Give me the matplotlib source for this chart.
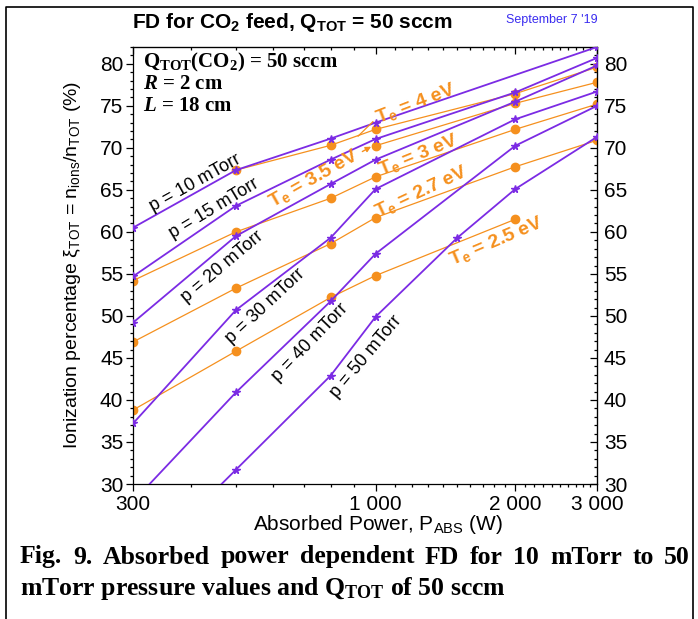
import matplotlib
matplotlib.use('Agg')
import matplotlib.pyplot as plt
from matplotlib.lines import Line2D
from matplotlib.ticker import FixedLocator, FixedFormatter, MultipleLocator, NullFormatter

plt.rcParams['font.family'] = 'Liberation Sans'
plt.rcParams['mathtext.default'] = 'regular'
plt.rcParams['mathtext.fontset'] = 'custom'
plt.rcParams['mathtext.it'] = 'Liberation Serif:italic:bold'

# pressure curves (purple, stars): absorbed power (W) -> ionization percentage (%)
P_10 = [300, 500, 800, 1000, 3000]
xi_10 = [60.5, 67.35, 71.1, 73.0, 82.0]
P_15 = [300, 500, 800, 1000, 2000, 3000]
xi_15 = [54.7, 63.1, 68.6, 71.05, 76.6, 80.7]
P_20 = [300, 500, 800, 1000, 2000, 3000]
xi_20 = [49.2, 59.5, 65.7, 68.6, 75.5, 79.8]
P_30 = [300, 500, 800, 1000, 2000, 3000]
xi_30 = [37.2, 50.7, 59.3, 65.1, 73.4, 76.7]
P_40 = [300, 500, 800, 1000, 2000, 3000]
xi_40 = [27.9, 40.9, 51.75, 57.4, 70.25, 75.0]
P_50 = [300, 500, 800, 1000, 1500, 2000, 3000]
xi_50 = [19.5, 31.7, 42.9, 49.9, 59.3, 65.1, 71.3]

# constant Te curves (orange, circles)
P_te40 = [500, 800, 1000, 2000, 3000]
xi_te40 = [67.35, 70.3, 72.2, 76.45, 79.6]
P_te35 = [1000, 2000, 3000]
xi_te35 = [70.25, 75.3, 77.8]
P_te30 = [300, 500, 800, 1000, 2000, 3000]
xi_te30 = [54.2, 60.0, 64.0, 66.55, 72.2, 75.2]
P_te27 = [300, 500, 800, 1000, 2000, 3000]
xi_te27 = [46.9, 53.3, 58.6, 61.7, 67.75, 70.9]
P_te25 = [300, 500, 800, 1000, 2000]
xi_te25 = [38.8, 45.8, 52.2, 54.8, 61.5]

x_major = [300, 1000, 2000, 3000]
x_major_labels = ['300', '1 000', '2 000', '3 000']

purple = '#7b2be4'
orange = '#f5901e'

fig = plt.figure(figsize=(6.98, 6.19), dpi=100)
ax = fig.add_axes([133/698, 135/619, 464/698, 437/619])

for P, xi in [(P_te40, xi_te40), (P_te35, xi_te35), (P_te30, xi_te30),
              (P_te27, xi_te27), (P_te25, xi_te25)]:
    ax.plot(P, xi, color=orange, lw=0.9, marker='o', ms=6, mec=orange, zorder=2)

for P, xi in [(P_10, xi_10), (P_15, xi_15), (P_20, xi_20),
              (P_30, xi_30), (P_40, xi_40), (P_50, xi_50)]:
    ax.plot(P, xi, color=purple, lw=1.3, marker='*', ms=5.5, zorder=3)

ax.set_xscale('log')
ax.set_xlim(300, 3000)
ax.set_ylim(30, 82)

x_minor = list(range(400, 1000, 100)) + list(range(1100, 2000, 100)) + list(range(2100, 3000, 100))
ax.xaxis.set_major_locator(FixedLocator(x_major))
ax.xaxis.set_major_formatter(FixedFormatter(x_major_labels))
ax.xaxis.set_minor_locator(FixedLocator(x_minor))
ax.xaxis.set_minor_formatter(NullFormatter())
ax.yaxis.set_major_locator(MultipleLocator(5))
ax.yaxis.set_minor_locator(MultipleLocator(1))
ax.tick_params(which='both', direction='out', labelsize=15, width=0.9)
ax.tick_params(which='major', length=5)
ax.tick_params(which='minor', length=2.5)
ax.tick_params(axis='y', pad=2)
ax.tick_params(axis='x', pad=3)

top = ax.secondary_xaxis('top')
top.xaxis.set_major_locator(FixedLocator(x_major))
top.xaxis.set_minor_locator(FixedLocator(x_minor))
top.xaxis.set_minor_formatter(NullFormatter())
top.tick_params(which='both', direction='in', labeltop=False, width=0.9)
top.tick_params(which='major', length=5)
top.tick_params(which='minor', length=2.5)

right = ax.secondary_yaxis('right')
right.yaxis.set_major_locator(MultipleLocator(5))
right.yaxis.set_minor_locator(MultipleLocator(1))
right.tick_params(which='both', direction='in', labelsize=15, width=0.9, pad=5)
right.tick_params(which='major', length=5)
right.tick_params(which='minor', length=2.5)

for s in ax.spines.values():
    s.set_linewidth(0.9)

# curve labels
p_labels = [('p = 10 mTorr', 408, 65.8, 29), ('p = 15 mTorr', 449, 62.8, 31),
            ('p = 20 mTorr', 467, 55.8, 40), ('p = 30 mTorr', 579, 51.2, 43),
            ('p = 40 mTorr', 723, 46.8, 46), ('p = 50 mTorr', 954, 45.1, 50)]
for txt, x, y, a in p_labels:
    ax.text(x, y, txt, fontsize=13, rotation=a, ha='center', va='center',
            rotation_mode='anchor', zorder=5)

te_labels = [('T$_e$ = 4 eV', 1218, 75.3, 21), ('T$_e$ = 3.5 eV', 735, 66.3, 29.5),
             ('T$_e$ = 3 eV', 1237, 69.1, 22), ('T$_e$ = 2.7 eV', 1255, 64.8, 25),
             ('T$_e$ = 2.5 eV', 1820, 58.9, 23)]
for txt, x, y, a in te_labels:
    ax.text(x, y, txt, fontsize=14, fontweight='bold', color=orange, rotation=a,
            ha='center', va='center', rotation_mode='anchor', zorder=5)

ax.plot([917, 986], [71.4, 73.1], color=orange, lw=0.9, zorder=4)
ax.annotate('', xy=(990, 70.3), xytext=(925, 69.4),
            arrowprops=dict(arrowstyle='-|>', color=orange, lw=1, mutation_scale=8))

# info block
fig.text(143/698, 1-62/619, 'Q$_{TOT}$(CO$_2$) = 50 sccm', family='Liberation Serif',
         fontweight='bold', fontsize=15, va='center')
fig.text(143/698, 1-84/619, r'$\mathit{R}$ = 2 cm', family='Liberation Serif',
         fontweight='bold', fontsize=15, va='center')
fig.text(143/698, 1-106/619, r'$\mathit{L}$ = 18 cm', family='Liberation Serif',
         fontweight='bold', fontsize=15, va='center')

fig.text(132/698, 1-23/619, 'FD for CO$_2$ feed, Q$_{TOT}$ = 50 sccm', fontweight='bold',
         fontsize=15, va='center')
fig.text(598/698, 1-20/619, "September 7 '19", color='#3a2cf0', fontsize=9,
         ha='right', va='center')

fig.text(73/698, 1-265/619, r'Ionization percentage $\xi_{TOT}$ = n$_{ions}$/n$_{TOT}$ (%)',
         fontsize=14, rotation=90, ha='center', va='center')
fig.text(378/698, 1-525/619, 'Absorbed Power, P$_{ABS}$ (W)', fontsize=15,
         ha='center', va='center')

# caption, first line justified to the frame width
cap_kw = dict(family='Liberation Serif', fontweight='bold', fontsize=18.5, va='center')
words = 'Fig. 9. Absorbed power dependent FD for 10 mTorr to 50'.split()
renderer = fig.canvas.get_renderer()
objs = [fig.text(0, 1-557/619, w, **cap_kw) for w in words]
widths = [o.get_window_extent(renderer).width for o in objs]
left_px, right_px = 20, 690
gap = (right_px - left_px - sum(widths)) / (len(words) - 1)
xpos = left_px
for o, w in zip(objs, widths):
    o.set_x(xpos / 698)
    xpos += w + gap
fig.text(20/698, 1-588/619, 'mTorr pressure values and Q$_{TOT}$ of 50 sccm', **cap_kw)

# outer frame
fig.add_artist(Line2D([6/698, 6/698, 693/698, 693/698], [0, 1-7/619, 1-7/619, 0],
                      transform=fig.transFigure, color='black', lw=1.2))

fig.savefig('out.png', dpi=100)
